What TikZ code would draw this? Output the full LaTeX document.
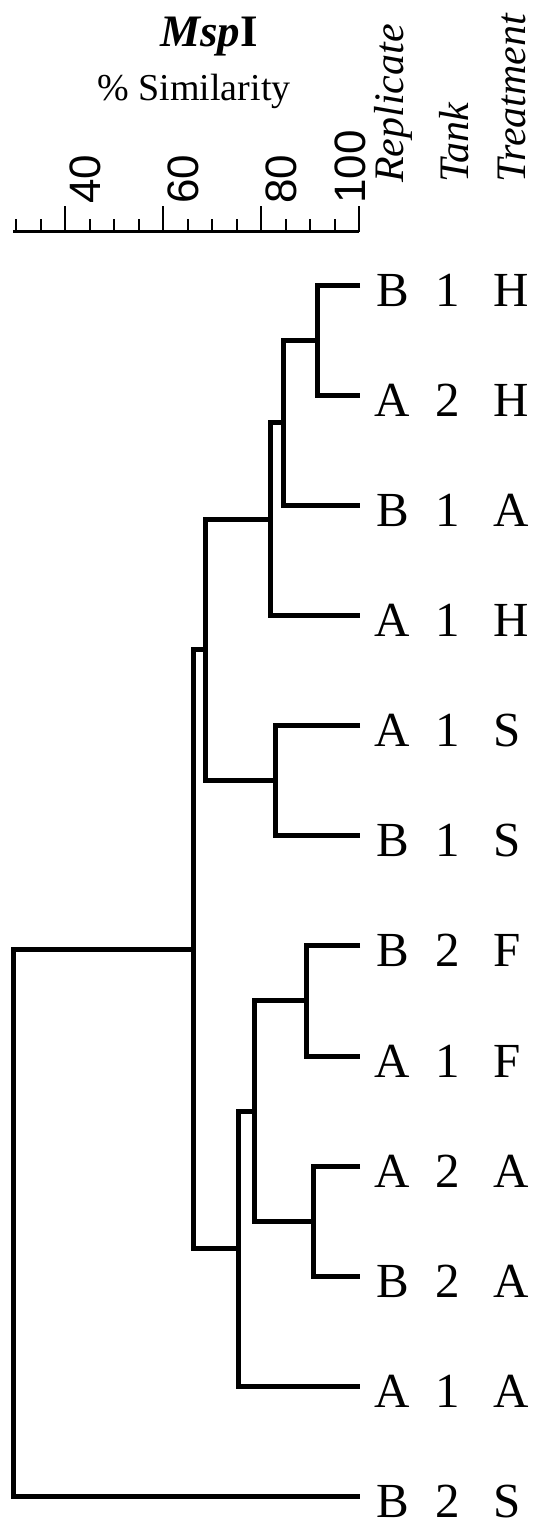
\documentclass[tikz,border=0pt]{standalone}
\usepackage{fontspec}
\setmainfont{Liberation Serif}
\newfontfamily\axisfont{Liberation Sans}
\newcommand\leaflab[3]{\makebox[33pt][c]{#1}\makebox[77.4pt][c]{#2}\hspace{6.8pt}#3}
\begin{document}
\begin{tikzpicture}[x=1pt,y=-1pt,
  branch/.style={line width=5pt, line join=miter},
  axisline/.style={line width=2.7pt},
  tickline/.style={line width=2pt},
  ticklabel/.style={rotate=90, anchor=base west, inner sep=0pt, font=\axisfont\fontsize{44}{44}\selectfont},
  header/.style={rotate=90, anchor=base west, inner sep=0pt, font=\itshape\fontsize{42}{42}\selectfont},
  leaflabel/.style={anchor=base west, inner sep=0pt, text depth=0pt, font=\fontsize{49}{49}\selectfont}]
\fill[white] (0,0) rectangle (543,1524);
\useasboundingbox (0,0) rectangle (543,1524);

% title
\node[font=\bfseries\fontsize{45}{45}\selectfont, anchor=base, inner sep=0pt] (title) at (209,46.7) {\textit{Msp}I};
\node[font=\fontsize{38}{38}\selectfont, anchor=base, inner sep=0pt] (subtitle) at (194,100) {\% Similarity};

% axis
\draw[axisline] (13,231.7) -- (359,231.7);
\foreach \p in {30,35,...,100}{
  \pgfmathsetmacro\xx{16+4.9*(\p-30)}
  \draw[tickline] (\xx,231.7) -- (\xx,219);
}
\foreach \p in {40,60,80,100}{
  \pgfmathsetmacro\xx{16+4.9*(\p-30)}
  \draw[tickline] (\xx,231.7) -- (\xx,206);
}
\node[ticklabel] (t40) at (100,204) {40};
\node[ticklabel] (t60) at (198,204) {60};
\node[ticklabel] (t80) at (296.5,204) {80};
\node[ticklabel] (t100) at (365,204) {100};

% column headers
\node[header] (hrep) at (403.3,183) {Replicate};
\node[header] (htank) at (468.3,183) {Tank};
\node[header] (htreat) at (525,183) {Treatment};

% leaves
\foreach \i/\a/\b/\c in {1/B/1/H,2/A/2/H,3/B/1/A,4/A/1/H,5/A/1/S,6/B/1/S,7/B/2/F,8/A/1/F,9/A/2/A,10/B/2/A,11/A/1/A,12/B/2/S}{
  \pgfmathsetmacro\yy{285+110.15*(\i-1)}
  \coordinate (l\i) at (360,\yy);
  \node[leaflabel] (lab\i) at (375.8,\yy+21) {\leaflab{\a}{\b}{\c}};
}

% internal nodes
\coordinate (n1) at (317,340.08);
\coordinate (n2) at (283.5,422.69);
\coordinate (n3) at (270.7,519.07);
\coordinate (n4) at (275.7,780.68);
\coordinate (n5) at (205.7,649.87);
\coordinate (n6) at (306,1000.98);
\coordinate (n7) at (313,1221.28);
\coordinate (n8) at (254,1111.13);
\coordinate (n9) at (238.3,1248.81);
\coordinate (n10) at (193.3,949.34);
\coordinate (n11) at (13,1222.99);

\draw[branch] (l1) -| (n1) |- (l2);
\draw[branch] (n1) -| (n2) |- (l3);
\draw[branch] (n2) -| (n3) |- (l4);
\draw[branch] (l5) -| (n4) |- (l6);
\draw[branch] (n3) -| (n5) |- (n4);
\draw[branch] (l7) -| (n6) |- (l8);
\draw[branch] (l9) -| (n7) |- (l10);
\draw[branch] (n6) -| (n8) |- (n7);
\draw[branch] (n8) -| (n9) |- (l11);
\draw[branch] (n5) -| (n10) |- (n9);
\draw[branch] (n10) -| (n11) |- (l12);
\end{tikzpicture}
\end{document}
